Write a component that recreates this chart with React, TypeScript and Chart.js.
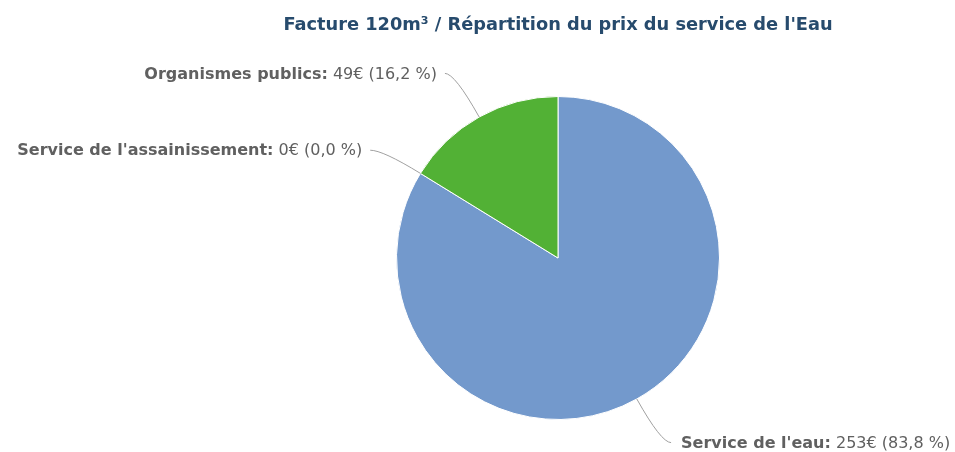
import React, { useEffect, useRef } from 'react';
import { Chart, registerables } from 'chart.js';

Chart.register(...registerables);

const categories = ["Service de l'eau", "Service de l'assainissement", 'Organismes publics'];
const values = [253, 0, 49];
const sliceColors = ['#7399cc', '#a5a5a5', '#52b135'];
const titleText = "Facture 120m³ / Répartition du prix du service de l'Eau";

const FONT = '"DejaVu Sans", Verdana, sans-serif';

const labelPlugin = {
  id: 'pieLabels',
  afterDraw(chart: any) {
    const ctx = chart.ctx as CanvasRenderingContext2D;
    const meta = chart.getDatasetMeta(0);
    const total = values.reduce((a, b) => a + b, 0);
    ctx.save();
    // title centred over the pie
    const area = chart.chartArea;
    ctx.font = 'bold 17.8px ' + FONT;
    ctx.fillStyle = '#274b6d';
    ctx.textAlign = 'center';
    ctx.textBaseline = 'middle';
    ctx.fillText(titleText, (area.left + area.right) / 2, 25);

    meta.data.forEach((arc: any, i: number) => {
      const { x, y, startAngle, endAngle, outerRadius } = arc.getProps(
        ['x', 'y', 'startAngle', 'endAngle', 'outerRadius'],
        true
      );
      const mid = (startAngle + endAngle) / 2;
      const cos = Math.cos(mid);
      const sin = Math.sin(mid);
      const ex = x + cos * outerRadius;
      const ey = y + sin * outerRadius;
      const ly = y + sin * (outerRadius + 50) + (Math.abs(sin) < 0.7 ? 3 : 0);
      const R = outerRadius + 55;
      const dy = ly - y;
      const left = cos < 0;
      const lx = x + (left ? -1 : 1) * Math.sqrt(Math.max(R * R - dy * dy, 0));
      const rc = Math.abs(sin) > 0.2 ? (ly - y) / sin : outerRadius + 30;
      const cxp = x + cos * rc;
      const cyp = y + sin * rc;
      ctx.beginPath();
      ctx.strokeStyle = '#a0a0a0';
      ctx.lineWidth = 1;
      ctx.moveTo(ex, ey);
      ctx.quadraticCurveTo(cxp, cyp, lx, ly);
      ctx.stroke();

      const pct = ((values[i] / total) * 100).toFixed(1).replace('.', ',');
      const name = categories[i] + ':';
      const val = ' ' + values[i] + '€ (' + pct + ' %)';
      ctx.textBaseline = 'middle';
      ctx.fillStyle = '#606060';
      const boldFont = 'bold 16px ' + FONT;
      const normFont = '16px ' + FONT;
      ctx.font = boldFont;
      const wName = ctx.measureText(name).width;
      ctx.font = normFont;
      const wVal = ctx.measureText(val).width;
      const tx = left ? lx - 8 - wName - wVal : lx + 10;
      ctx.textAlign = 'left';
      ctx.font = boldFont;
      ctx.fillText(name, tx, ly + 1);
      ctx.font = normFont;
      ctx.fillText(val, tx + wName, ly + 1);
    });
    ctx.restore();
  },
};

export default function App() {
  const ref = useRef<HTMLCanvasElement>(null);
  useEffect(() => {
    if (!ref.current) return;
    const chart = new Chart(ref.current, {
      type: 'pie',
      data: {
        labels: categories,
        datasets: [
          {
            data: values,
            backgroundColor: sliceColors,
            borderColor: '#ffffff',
            borderWidth: 1,
          },
        ],
      },
      options: {
        responsive: false,
        animation: false,
        layout: { padding: { left: 396, right: 235, top: 96, bottom: 32 } },
        plugins: {
          legend: { display: false },
          tooltip: { enabled: false },
          title: { display: false },
        },
      },
      plugins: [labelPlugin],
    });
    return () => chart.destroy();
  }, []);
  return (
    <div style={{ position: 'fixed', left: 0, top: 0, width: 955, height: 452, background: '#fff' }}>
      <canvas ref={ref} width={955} height={452} />
    </div>
  );
}
